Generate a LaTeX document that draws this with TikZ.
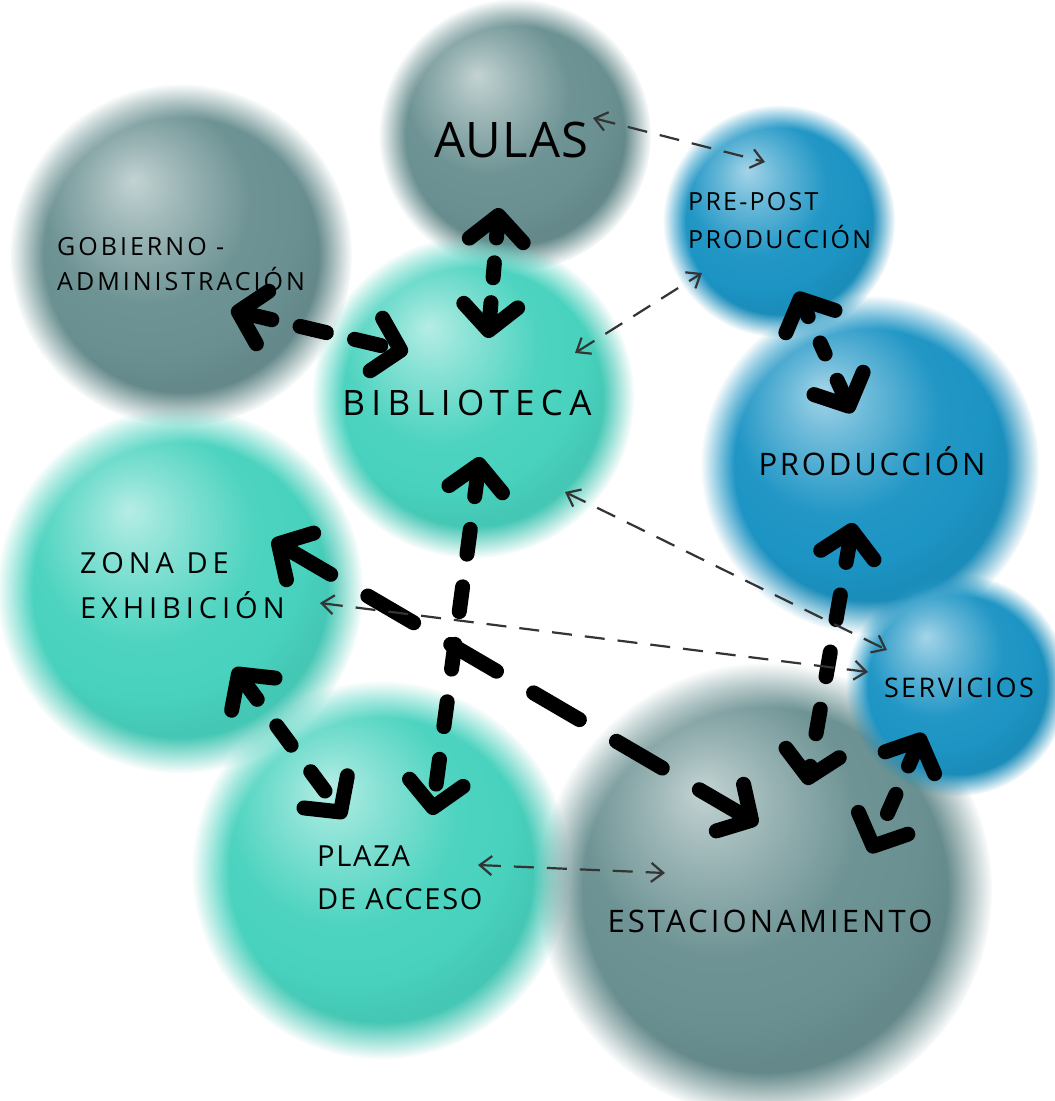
\documentclass[tikz,border=0pt]{standalone}
\usepackage{fontspec}
\setmainfont{Open Sans}
\usetikzlibrary{arrows.meta,fadings}
\definecolor{slategrey}{RGB}{106,144,145}
\definecolor{aquagreen}{RGB}{72,210,190}
\definecolor{oceanblue}{RGB}{28,148,196}
\definecolor{inkgrey}{RGB}{52,52,52}
\colorlet{spherebase}{slategrey}
% soft ball shading, highlight up and to the left
\pgfdeclareradialshading[spherebase]{spherelight}{\pgfpoint{-7bp}{11bp}}{%
  color(0bp)=(spherebase!40!white); color(6bp)=(spherebase!65!white);
  color(15bp)=(spherebase!97!white); color(21bp)=(spherebase);
  color(25bp)=(spherebase!95!black); color(50bp)=(spherebase!95!black)}
% blurred rim
\pgfdeclareradialshading{spheremask}{\pgfpointorigin}{%
  color(0bp)=(white); color(20bp)=(white); color(22.5bp)=(gray); color(25bp)=(black);
  color(50bp)=(black)}
\pgfdeclarefading{spherefuzz}{\pgfuseshading{spheremask}}
\newcommand\labelfont[3]{\fontsize{#1}{#2}\selectfont\addfontfeature{LetterSpace=#3}}
\tikzset{
  sphere base/.code={\colorlet{spherebase}{#1}},
  sphere/.style={shade,shading=spherelight,sphere base=#1,path fading=spherefuzz},
  lbl/.style={inner sep=0pt,text=black,align=left},
  bigflow/.style={line width=15pt,line cap=round,dash pattern=on 24pt off 33pt,
    >={Straight Barb[length=25pt,width=54pt,round]},<->},
  thinflow/.style={line width=2.2pt,draw=inkgrey,dash pattern=on 20pt off 13pt,
    >={Straight Barb[length=12pt,width=19pt]},<->}
}
\begin{document}
\begin{tikzpicture}[x=1pt,y=-1pt]
  \fill[white] (0,0) rectangle (1055,1101);
  \useasboundingbox (0,0) rectangle (1055,1101);
  % spheres, back to front
  \path[sphere=slategrey] (181,255) circle (171pt);
  \path[sphere=slategrey] (515,135) circle (136pt);
  \path[sphere=aquagreen] (180,590) circle (183pt);
  \path[sphere=aquagreen] (473,397) circle (161pt);
  \path[sphere=oceanblue] (779,221) circle (116pt);
  \path[sphere=oceanblue] (870,465) circle (169pt);
  \path[sphere=aquagreen] (381,870) circle (189pt);
  \path[sphere=slategrey] (765,890) circle (227pt);
  \path[sphere=oceanblue] (957,685) circle (111pt);

  % labels
  \node[lbl,font=\labelfont{49}{58}{2},anchor=base] (aulas) at (511,157) {AULAS};
  \node[lbl,font=\labelfont{25}{35}{12},anchor=north west] (gobierno) at (57,237)
    {GOBIERNO -\\ADMINISTRACIÓN};
  \node[lbl,font=\labelfont{25}{38}{9},anchor=north west] (prepost) at (688,192)
    {PRE-POST\\PRODUCCIÓN};
  \node[lbl,font=\labelfont{35}{42}{18},anchor=base] (biblioteca) at (467,415) {BIBLIOTECA};
  \node[lbl,font=\labelfont{31}{37}{9},anchor=base] (produccion) at (872,475) {PRODUCCIÓN};
  \node[lbl,font=\labelfont{29}{45}{17},anchor=north west] (zona) at (80,552)
    {ZONA DE\\EXHIBICIÓN};
  \node[lbl,font=\labelfont{27}{32}{9},anchor=base] (servicios) at (959,697) {SERVICIOS};
  \node[lbl,font=\labelfont{29}{43}{6},anchor=north west] (plaza) at (317,846)
    {PLAZA\\DE ACCESO};
  \node[lbl,font=\labelfont{31}{37}{10},anchor=base] (estacion) at (770,932) {ESTACIONAMIENTO};

  % connector ends
  \coordinate (aulas-s) at (499,208);
  \coordinate (aulas-e) at (593,118);
  \coordinate (gob-se) at (231,310);
  \coordinate (prepost-n) at (765,162);
  \coordinate (prepost-sw) at (702,273);
  \coordinate (prepost-s) at (797,292);
  \coordinate (biblio-n) at (488,338);
  \coordinate (biblio-w) at (408,352);
  \coordinate (biblio-ne) at (575,353);
  \coordinate (biblio-s) at (480,457);
  \coordinate (biblio-se) at (565,492);
  \coordinate (prod-n) at (852,413);
  \coordinate (prod-s) at (853,523);
  \coordinate (zona-ne) at (272,540);
  \coordinate (zona-e) at (320,603);
  \coordinate (zona-s) at (234,668);
  \coordinate (serv-nw) at (887,650);
  \coordinate (serv-w) at (868,672);
  \coordinate (serv-s) at (923,733);
  \coordinate (plaza-n) at (432,815);
  \coordinate (plaza-nw) at (345,818);
  \coordinate (plaza-e) at (478,865);
  \coordinate (estac-n) at (807,785);
  \coordinate (estac-nw) at (758,824);
  \coordinate (estac-ne) at (870,853);
  \coordinate (estac-w) at (665,873);

  % strong relations
  \draw[bigflow,dash pattern=on 15pt off 25pt] (aulas-s) -- (biblio-n);
  \draw[bigflow,dash pattern=on 27pt off 29pt] (gob-se) -- (biblio-w);
  \draw[bigflow,dash pattern=on 12pt off 29pt] (prepost-s) -- (prod-n);
  \draw[bigflow,dash pattern=on 25pt off 33pt] (biblio-s) -- (plaza-n);
  \draw[bigflow] (zona-s) -- (plaza-nw);
  \draw[bigflow,dash pattern=on 53pt off 43pt] (zona-ne) -- (estac-nw);
  \draw[bigflow,dash pattern=on 25pt off 33pt] (prod-s) -- (estac-n);
  \draw[bigflow,dash pattern=on 21pt off 31pt] (serv-s) -- (estac-ne);

  % weak relations
  \draw[thinflow] (aulas-e) -- (prepost-n);
  \draw[thinflow] (biblio-ne) -- (prepost-sw);
  \draw[thinflow] (biblio-se) -- (serv-nw);
  \draw[thinflow] (zona-e) -- (serv-w);
  \draw[thinflow] (plaza-e) -- (estac-w);
\end{tikzpicture}
\end{document}
